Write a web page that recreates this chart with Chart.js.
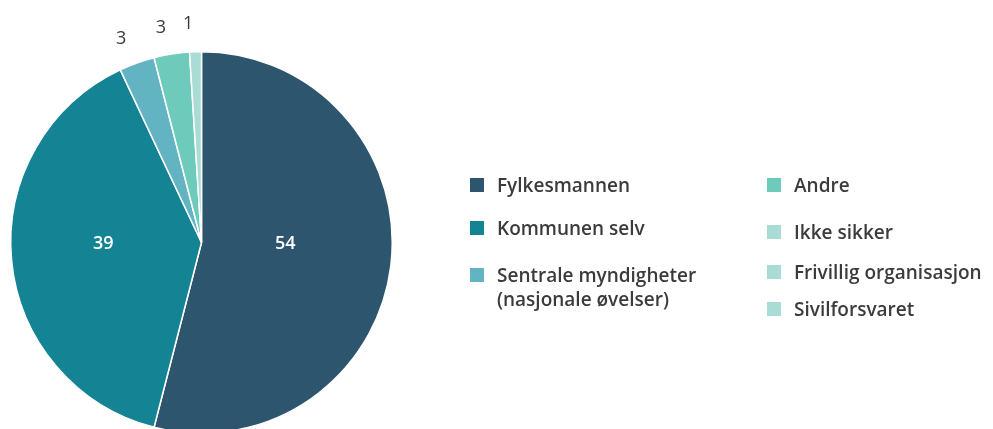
<!DOCTYPE html>
<html>
<head>
<meta charset="utf-8">
<script src="https://cdn.jsdelivr.net/npm/chart.js@4.4.1/dist/chart.umd.min.js"></script>
<style>
  html, body { margin: 0; padding: 0; background: #fff; overflow: hidden; }
  #wrap { position: relative; width: 993px; height: 429px; overflow: hidden; }
  #box { position: absolute; left: 0; top: 0; width: 993px; height: 445px; }
  .legend { position: absolute; font-family: "Open Sans", sans-serif; font-size: 19px; font-weight: 600; color: #3b3b3b; line-height: 24px; }
  .item { position: absolute; white-space: nowrap; }
  .item span.sw { position: absolute; left: 0; top: 5px; width: 14px; height: 14px; }
  .item span.tx { position: absolute; left: 27px; top: 0; }
</style>
</head>
<body>
<div id="wrap">
  <div id="box"><canvas id="pie"></canvas></div>
  <div class="legend" id="legend"></div>
</div>
<script>
// Kategorier og verdier (prosent)
const labels = ['Fylkesmannen', 'Kommunen selv', 'Sentrale myndigheter\n(nasjonale øvelser)', 'Andre', 'Ikke sikker', 'Frivillig organisasjon', 'Sivilforsvaret'];
const values = [54, 39, 3, 3, 1, 0, 0];
const colors = ['#2d566e', '#148494', '#62b4c3', '#6ecabb', '#a8dcd4', '#a8dcd4', '#a8dcd4'];

// Plassering av tegnforklaring (kolonne, y)
const legendPos = [[470, 173], [470, 216], [470, 263], [767, 173], [767, 220], [767, 260], [767, 297]];

// Tegner verdiene på/utenfor sektorene
const valueLabels = {
    id: 'valueLabels',
    afterDatasetsDraw(chart) {
        const ctx = chart.ctx;
        const meta = chart.getDatasetMeta(0);
        ctx.save();
        ctx.textAlign = 'center';
        ctx.textBaseline = 'middle';
        meta.data.forEach((arc, i) => {
            const v = values[i];
            if (!v) return;
            const mid = (arc.startAngle + arc.endAngle) / 2;
            let x, y;
            if (v >= 10) {
                // store tall: midt i høyden, innenfor sektoren
                x = arc.x + Math.cos(mid) * arc.outerRadius * 0.48 - 7;
                y = arc.y + 1;
                ctx.fillStyle = '#ffffff';
                ctx.font = '600 18px "Open Sans", sans-serif';
            } else {
                const r = arc.outerRadius + 28;
                x = arc.x + Math.cos(mid - 0.03) * r;
                y = arc.y + Math.sin(mid - 0.03) * r;
                ctx.fillStyle = '#3b3b3b';
                ctx.font = '18px "Open Sans", sans-serif';
            }
            ctx.fillText(String(v), x, y);
        });
        ctx.restore();
    }
};

new Chart(document.getElementById('pie'), {
    type: 'pie',
    data: {
        labels: labels,
        datasets: [{
            data: values,
            backgroundColor: colors,
            borderColor: '#ffffff',
            borderWidth: 1.5
        }]
    },
    options: {
        responsive: true,
        maintainAspectRatio: false,
        animation: false,
        layout: { padding: { left: 10, right: 600, top: 51, bottom: 11 } },
        plugins: {
            legend: { display: false },
            tooltip: { enabled: false }
        }
    },
    plugins: [valueLabels]
});

// Tegnforklaring
const legend = document.getElementById('legend');
labels.forEach((lab, i) => {
    const el = document.createElement('div');
    el.className = 'item';
    el.style.left = legendPos[i][0] + 'px';
    el.style.top = legendPos[i][1] + 'px';
    el.innerHTML = '<span class="sw" style="background:' + colors[i] + '"></span><span class="tx">' + lab.replace('\n', '<br>') + '</span>';
    legend.appendChild(el);
});
</script>
</body>
</html>
